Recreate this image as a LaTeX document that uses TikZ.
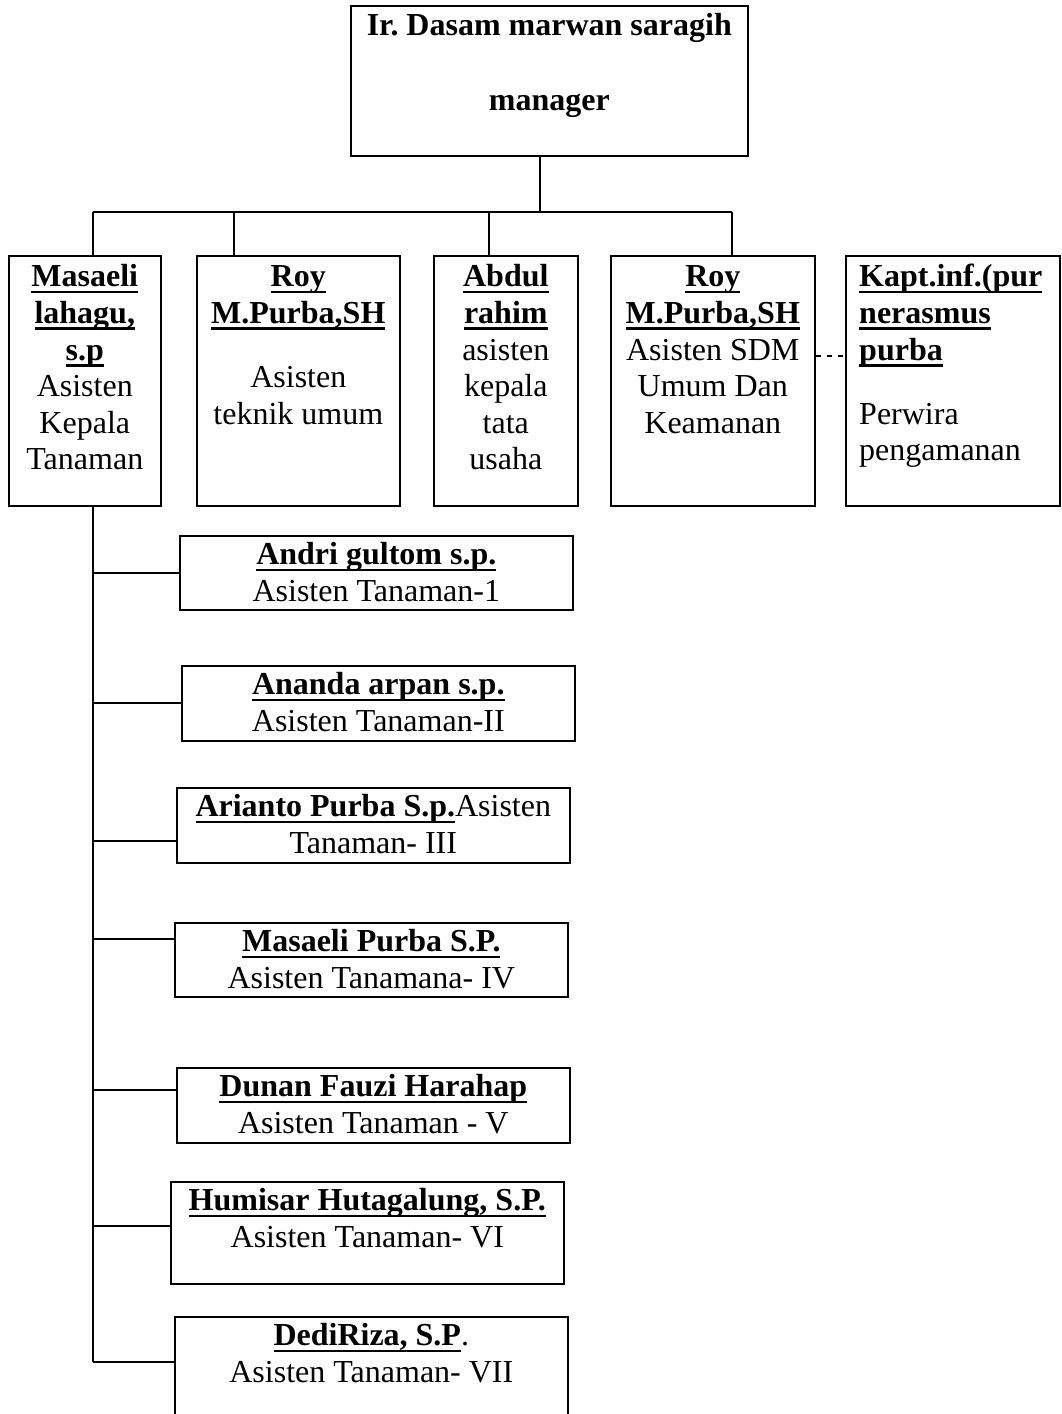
\documentclass[tikz,border=0pt]{standalone}
\usepackage{fontspec}
\setmainfont{Liberation Serif}
\frenchspacing
\newsavebox{\namebox}
\newcommand{\bname}[1]{\sbox{\namebox}{\textbf{#1}}%
  \rlap{\rule[-6.5pt]{\wd\namebox}{2.6pt}}\usebox{\namebox}}

\begin{document}
\begin{tikzpicture}[x=1pt, y=-1pt,
    unit/.style={draw, line width=1.6pt, inner sep=0pt, anchor=north west},
    txt/.style={inner sep=0pt, anchor=north, align=center, font=\fontsize{32pt}{36.6pt}\selectfont},
    link/.style={line width=1.3pt}]
  \useasboundingbox (0,0) rectangle (1061,1414);

  % manager
  \node[unit, minimum width=397pt, minimum height=150pt] (mgr) at (350,5) {};
  \node[txt] (mgrt) at ([yshift=-4.4pt]mgr.north)
    {\strut\textbf{Ir. Dasam marwan saragih}\\[38.4pt]\textbf{manager}};

  % asisten row
  \node[unit, minimum width=152pt, minimum height=250pt] (akt) at (8,255) {};
  \node[txt] (aktt) at ([yshift=-6pt]akt.north)
    {\strut\bname{Masaeli}\\\bname{lahagu,}\\\bname{s.p}\\Asisten\\Kepala\\Tanaman};
  \node[unit, minimum width=203pt, minimum height=250pt] (atu) at (196,255) {};
  \node[txt] (atut) at ([yshift=-6pt]atu.north)
    {\strut\bname{Roy}\\\bname{M.Purba,SH}\\[27.4pt]Asisten\\teknik umum};
  \node[unit, minimum width=144pt, minimum height=250pt] (ktu) at (433,255) {};
  \node[txt] (ktut) at ([yshift=-6pt]ktu.north)
    {\strut\bname{Abdul}\\\bname{rahim}\\asisten\\kepala\\tata\\usaha};
  \node[unit, minimum width=204pt, minimum height=250pt] (sdm) at (610,255) {};
  \node[txt] (sdmt) at ([yshift=-6pt]sdm.north)
    {\strut\bname{Roy}\\\bname{M.Purba,SH}\\Asisten SDM\\Umum Dan\\Keamanan};
  \node[unit, minimum width=214pt, minimum height=250pt] (kpt) at (845,255) {};
  \node[txt, anchor=north west, align=left] (kptt) at ([xshift=14pt,yshift=-6pt]kpt.north west)
    {\strut\bname{Kapt.inf.(pur}\\\bname{nerasmus}\\\bname{purba}\\[27.4pt]Perwira\\pengamanan};

  % lines from manager
  \coordinate (hub) at (540,212);
  \coordinate (busL) at (93,212);
  \coordinate (busR) at (732,212);
  \draw[link] (mgr.south -| hub) -- (hub);
  \draw[link] (busL) -- (busR);
  \foreach \bx/\x in {akt/93, atu/234, ktu/489, sdm/732} {
    \coordinate (drop) at (\x,212);
    \draw[link] (drop) -- (drop |- \bx.north);
  }
  \coordinate (dsh) at (820,356);
  \draw[link, dash pattern=on 5pt off 6pt] (dsh -| sdm.east) -- (dsh -| kpt.west);

  % asisten tanaman
  \foreach \bx/\x/\y/\h/\cy/\txt in {
      andri/179/535/74/573/{\bname{Andri gultom s.p.}\\Asisten Tanaman-1},
      ananda/181/665/75/703/{\bname{Ananda arpan s.p.}\\Asisten Tanaman-II},
      arianto/176/787/75/841/{\bname{Arianto Purba S.p.}Asisten\\Tanaman- III},
      mpurba/174/922/74/939/{\bname{Masaeli Purba S.P.}\\Asisten Tanamana- IV},
      dunan/176/1067/75/1090/{\bname{Dunan Fauzi Harahap}\\Asisten Tanaman - V},
      humisar/170/1181/102/1226/{\bname{Humisar Hutagalung, S.P.}\\Asisten Tanaman- VI},
      dedi/174/1316/130/1362/{\bname{DediRiza, S.P}.\\Asisten Tanaman- VII}} {
    \node[unit, minimum width=393pt, minimum height=\h pt] (\bx) at (\x,\y) {};
    \node[txt] (t\bx) at ([yshift=-4pt]\bx.north) {\strut\txt};
    \coordinate (c\bx) at (93,\cy);
    \draw[link] (c\bx) -- (c\bx -| \bx.west);
  }
  \draw[link] (akt.south -| busL) -- (cdedi);
\end{tikzpicture}
\end{document}
